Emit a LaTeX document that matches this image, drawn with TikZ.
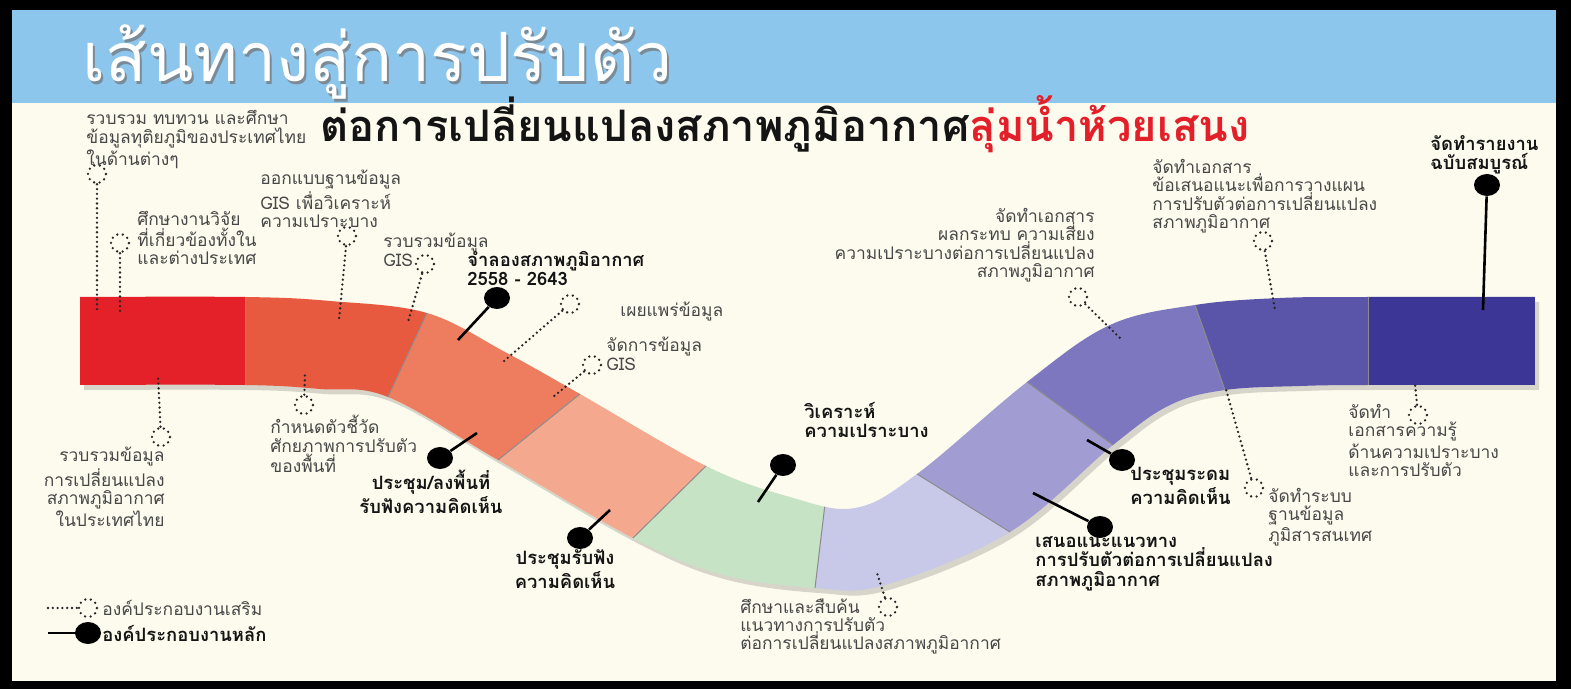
\documentclass[tikz,border=0pt]{standalone}
\usepackage{fontspec}
\setmainfont[Script=Thai]{Loma}
\usetikzlibrary{calc,shapes.geometric}

\definecolor{cream}{HTML}{FDFBEE}
\definecolor{headblue}{HTML}{8DC6EC}
\definecolor{subred}{HTML}{E3202A}
\definecolor{segA}{HTML}{E42128}
\definecolor{segB}{HTML}{E85A3F}
\definecolor{segC}{HTML}{EE7D60}
\definecolor{segD}{HTML}{F4A88D}
\definecolor{segE}{HTML}{C6E3C6}
\definecolor{segF}{HTML}{C8C8E8}
\definecolor{segG}{HTML}{A19DD2}
\definecolor{segH}{HTML}{7C77BF}
\definecolor{segI}{HTML}{5B55AA}
\definecolor{segJ}{HTML}{3C3797}

\newcommand\ribbonoutline{plot[smooth,tension=0.6] coordinates {(80,297) (245,297) (330,301) (427,313) (505,352) (580,394) (706,466) (790,497) (855,508) (917,474) (1027,382) (1110,325) (1195,305) (1280,298) (1368,297) (1535,297)}
  -- plot[smooth,tension=0.6] coordinates {(1535,385) (1368,385) (1300,386) (1225,390) (1170,405) (1113,445) (1010,532) (885,585) (815,588) (720,574) (633,538) (498,460) (388,397) (320,389) (245,385) (80,385)} -- cycle}

\tikzset{
  auxline/.style={line width=1.3pt, dash pattern=on 0pt off 2.4pt, line cap=round, black!85},
  auxdot/.style={circle, minimum size=9pt, inner sep=0pt, draw=black!85, line width=1.3pt, dash pattern=on 0pt off 2.8pt, line cap=round},
  mainline/.style={line width=1.3pt, black},
  maindot/.style={ellipse, minimum width=13pt, minimum height=11pt, inner sep=0pt, fill=black},
  auxlabel/.style={font=\fontsize{8.7}{9.2}\selectfont, text=black!72, inner sep=0pt},
  mainlabel/.style={font=\fontsize{9.2}{9.7}\selectfont\bfseries, text=black!92, inner sep=0pt},
  divider/.style={line width=0.5pt, black!45}
}

\begin{document}
\begin{tikzpicture}[x=0.5pt,y=-0.5pt]
  \useasboundingbox (0,0) rectangle (1571,689);
  % Frame and header
  \fill[black] (0,0) rectangle (1571,689);
  \fill[cream] (12,10) rectangle (1556,681);
  \fill[headblue] (12,10) rectangle (1556,103);
  \node[anchor=west, inner sep=0pt, font=\fontsize{34}{36}\selectfont, text=black!55, opacity=0.7] (titleshade) at (84,65) {เส้นทางสู่การปรับตัว};
  \node[anchor=west, inner sep=0pt, font=\fontsize{34}{36}\selectfont, text=white] (title) at (82,62) {เส้นทางสู่การปรับตัว};
  \node[anchor=west, inner sep=0pt, text height=15pt, text depth=4pt, font=\fontsize{21.7}{23}\selectfont\bfseries, text=black!92] (subtitle) at (320,131) {ต่อการเปลี่ยนแปลงสภาพภูมิอากาศ\textcolor{subred}{ลุ่มน้ำห้วยเสนง}};

  % Divider end points (top / bottom)
  \coordinate (t0) at (80,297);   \coordinate (b0) at (80,385);
  \coordinate (t1) at (245,297);  \coordinate (b1) at (245,385);
  \coordinate (t2) at (427,313);  \coordinate (b2) at (388,397);
  \coordinate (t3) at (580,394);  \coordinate (b3) at (498,460);
  \coordinate (t4) at (706,466);  \coordinate (b4) at (633,538);
  \coordinate (t5) at (825,504);  \coordinate (b5) at (815,588);
  \coordinate (t6) at (917,474);  \coordinate (b6) at (1010,532);
  \coordinate (t7) at (1027,382); \coordinate (b7) at (1113,445);
  \coordinate (t8) at (1195,305); \coordinate (b8) at (1225,390);
  \coordinate (t9) at (1368,297); \coordinate (b9) at (1368,385);
  \coordinate (t10) at (1535,297); \coordinate (b10) at (1535,385);

  % Ribbon
  \begin{scope}[shift={(4,5)}]
    \fill[black, opacity=0.15] \ribbonoutline;
  \end{scope}
  \begin{scope}
    \clip \ribbonoutline;
    \foreach \i/\j/\c in {0/1/segA, 1/2/segB, 2/3/segC, 3/4/segD, 4/5/segE, 5/6/segF, 6/7/segG, 7/8/segH, 8/9/segI, 9/10/segJ}
      \fill[\c] ($(t\i)!-0.7!(b\i)$) -- ($(t\j)!-0.7!(b\j)$) -- ($(b\j)!-0.7!(t\j)$) -- ($(b\i)!-0.7!(t\i)$) -- cycle;
    \foreach \i in {1,...,9}
      \draw[divider] (t\i) -- (b\i);
  \end{scope}

  % Dotted items
  \node[auxdot] (a1) at (97,174) {};   \coordinate (a1e) at (97,312);
  \node[auxdot] (a2) at (120,243) {};  \coordinate (a2e) at (120,312);
  \node[auxdot] (a3) at (347,236) {};  \coordinate (a3e) at (339,320);
  \node[auxdot] (a4) at (425,264) {};  \coordinate (a4e) at (408,322);
  \node[auxdot] (a5) at (570,304) {};  \coordinate (a5e) at (503,362);
  \node[auxdot] (a6) at (592,365) {};  \coordinate (a6e) at (553,397);
  \node[auxdot] (a7) at (304,405) {};  \coordinate (a7e) at (305,373);
  \node[auxdot] (a8) at (161,437) {};  \coordinate (a8e) at (158,376);
  \node[auxdot] (a9) at (1078,297) {}; \coordinate (a9e) at (1122,340);
  \node[auxdot] (a10) at (1263,241) {}; \coordinate (a10e) at (1275,310);
  \node[auxdot] (a11) at (1418,415) {}; \coordinate (a11e) at (1415,384);
  \node[auxdot] (a12) at (1254,488) {}; \coordinate (a12e) at (1225,386);
  \node[auxdot] (a13) at (888,607) {};  \coordinate (a13e) at (877,573);
  \foreach \k in {1,...,13}
    \draw[auxline] (a\k) -- (a\k e);

  \node[auxlabel, anchor=north west, align=left] (a1t) at (86,110) {รวบรวม ทบทวน และศึกษา\\ข้อมูลทุติยภูมิของประเทศไทย\\ในด้านต่างๆ};
  \node[auxlabel, anchor=north west, align=left] (a2t) at (137,211) {ศึกษางานวิจัย\\ที่เกี่ยวข้องทั้งใน\\และต่างประเทศ};
  \node[auxlabel, anchor=north west, align=left] (a3t) at (260,170) {ออกแบบฐานข้อมูล\\GIS เพื่อวิเคราะห์\\ความเปราะบาง};
  \node[auxlabel, anchor=north west, align=left] (a4t) at (383,233) {รวบรวมข้อมูล\\GIS};
  \node[auxlabel, anchor=west] (a5t) at (620,312) {เผยแพร่ข้อมูล};
  \node[auxlabel, anchor=north west, align=left] (a6t) at (606,337) {จัดการข้อมูล\\GIS};
  \node[auxlabel, anchor=north west, align=left] (a7t) at (270,415) {กำหนดตัวชี้วัด\\ศักยภาพการปรับตัว\\ของพื้นที่};
  \node[auxlabel, anchor=north east, align=right] (a8t) at (165,447) {รวบรวมข้อมูล\\การเปลี่ยนแปลง\\สภาพภูมิอากาศ\\ในประเทศไทย};
  \node[auxlabel, anchor=north east, align=right] (a9t) at (1095,208) {จัดทำเอกสาร\\ผลกระทบ ความเสี่ยง\\ความเปราะบางต่อการเปลี่ยนแปลง\\สภาพภูมิอากาศ};
  \node[auxlabel, anchor=north west, align=left] (a10t) at (1152,159) {จัดทำเอกสาร\\ข้อเสนอแนะเพื่อการวางแผน\\การปรับตัวต่อการเปลี่ยนแปลง\\สภาพภูมิอากาศ};
  \node[auxlabel, anchor=north west, align=left] (a11t) at (1348,404) {จัดทำ\\เอกสารความรู้\\ด้านความเปราะบาง\\และการปรับตัว};
  \node[auxlabel, anchor=north west, align=left] (a12t) at (1268,488) {จัดทำระบบ\\ฐานข้อมูล\\ภูมิสารสนเทศ};
  \node[auxlabel, anchor=north west, align=left] (a13t) at (740,598) {ศึกษาและสืบค้น\\แนวทางการปรับตัว\\ต่อการเปลี่ยนแปลงสภาพภูมิอากาศ};

  % Main items
  \node[maindot] (m1) at (1487,185) {}; \coordinate (m1e) at (1483,310);
  \node[maindot] (m2) at (497,298) {};  \coordinate (m2e) at (458,340);
  \node[maindot] (m3) at (440,458) {};  \coordinate (m3e) at (477,433);
  \node[maindot] (m4) at (580,538) {};  \coordinate (m4e) at (610,510);
  \node[maindot] (m5) at (783,465) {};  \coordinate (m5e) at (758,502);
  \node[maindot] (m6) at (1122,460) {}; \coordinate (m6e) at (1087,440);
  \node[maindot] (m7) at (1100,527) {}; \coordinate (m7e) at (1033,493);
  \foreach \k in {1,...,7}
    \draw[mainline] (m\k) -- (m\k e);

  \node[mainlabel, anchor=north west, align=left] (m1t) at (1430,135) {จัดทำรายงาน\\ฉบับสมบูรณ์};
  \node[mainlabel, anchor=north west, align=left] (m2t) at (467,251) {จำลองสภาพภูมิอากาศ\\2558 - 2643};
  \node[mainlabel, anchor=north, align=center] (m3t) at (431,470) {ประชุม/ลงพื้นที่\\รับฟังความคิดเห็น};
  \node[mainlabel, anchor=north, align=center] (m4t) at (565,549) {ประชุมรับฟัง\\ความคิดเห็น};
  \node[mainlabel, anchor=north west, align=left] (m5t) at (804,402) {วิเคราะห์\\ความเปราะบาง};
  \node[mainlabel, anchor=north west, align=left] (m6t) at (1130,467) {ประชุมระดม\\ความคิดเห็น};
  \node[mainlabel, anchor=north west, align=left] (m7t) at (1035,536) {เสนอแนะแนวทาง\\การปรับตัวต่อการเปลี่ยนแปลง\\สภาพภูมิอากาศ};

  % Legend
  \coordinate (l1) at (48,608);
  \node[auxdot] (lg1) at (88,608) {};
  \draw[auxline] (l1) -- (lg1);
  \node[auxlabel, anchor=west] (lg1t) at (102,608) {องค์ประกอบงานเสริม};
  \coordinate (l2) at (48,633);
  \node[maindot] (lg2) at (88,633) {};
  \draw[mainline] (l2) -- (lg2);
  \node[mainlabel, anchor=west] (lg2t) at (102,633) {องค์ประกอบงานหลัก};
\end{tikzpicture}
\end{document}
